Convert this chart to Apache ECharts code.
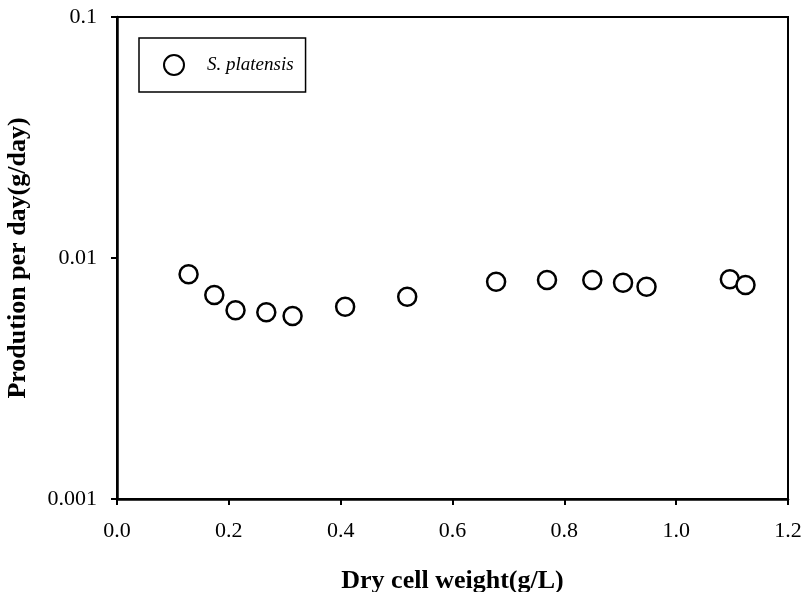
<!DOCTYPE html>
<html>
<head>
<meta charset="utf-8">
<script src="https://cdn.jsdelivr.net/npm/echarts@6/dist/echarts.min.js"></script>
<style>
  html, body { margin: 0; padding: 0; background: #fff; }
  #chart { width: 803px; height: 592px; }
</style>
</head>
<body>
<div id="chart"></div>
<script>
"use strict";

const seriesName = "S. platensis";
const dryCellWeight = [0.128, 0.174, 0.212, 0.267, 0.314, 0.408, 0.519, 0.678, 0.769, 0.850, 0.905, 0.947, 1.096, 1.124];
const productionPerDay = [0.00856, 0.00702, 0.00607, 0.00595, 0.00574, 0.00628, 0.00691, 0.00797, 0.0081, 0.0081, 0.00789, 0.0076, 0.00816, 0.00773];
const yTickLabels = ["0.001", "0.01", "0.1"];

const serif = "'Liberation Serif', 'Times New Roman', serif";
const chart = echarts.init(document.getElementById("chart"), null, { renderer: "canvas" });

chart.setOption({
  animation: false,
  backgroundColor: "#fff",
  grid: {
    left: 117, right: 15, top: 17, bottom: 93, outerBoundsMode: "none", containLabel: false,
    show: true, borderColor: "#000", borderWidth: 2, backgroundColor: "transparent",
  },
  legend: {
    left: 139, top: 38,
    orient: "vertical",
    padding: [16, 12, 16, 24],
    itemWidth: 20, itemHeight: 20,
    borderColor: "#000", borderWidth: 1.5,
    textStyle: { fontFamily: serif, fontStyle: "italic", fontSize: 19, color: "#000", padding: [0, 0, 0, 18] },
    data: [seriesName],
  },
  xAxis: {
    type: "value", min: 0, max: 1.2, interval: 0.2,
    name: "Dry cell weight(g/L)", nameLocation: "middle", nameGap: 69,
    nameTextStyle: { fontFamily: serif, fontWeight: "bold", fontSize: 26, color: "#000" },
    axisLine: { onZero: false, lineStyle: { color: "#000", width: 2.5 } },
    axisTick: { show: true, inside: false, length: 6, lineStyle: { color: "#000", width: 2 } },
    axisLabel: { fontFamily: serif, fontSize: 22, color: "#000", margin: 21, formatter: (v) => v.toFixed(1) },
    splitLine: { show: false },
  },
  yAxis: {
    type: "log", logBase: 10, min: 0.001, max: 0.1,
    name: "Prodution per day(g/day)", nameLocation: "middle", nameGap: 86,
    nameTextStyle: { fontFamily: serif, fontWeight: "bold", fontSize: 26, color: "#000" },
    axisLine: { onZero: false, lineStyle: { color: "#000", width: 2.5 } },
    axisTick: { show: true, inside: false, length: 6, lineStyle: { color: "#000", width: 2 } },
    axisLabel: { fontFamily: serif, fontSize: 22, color: "#000", margin: 20, formatter: (v, i) => yTickLabels[i] },
    splitLine: { show: false },
    minorTick: { show: false },
  },
  series: [{
    name: seriesName,
    type: "scatter",
    symbol: "circle",
    symbolSize: 18,
    itemStyle: { color: "#fff", borderColor: "#000", borderWidth: 2.5, opacity: 1 },
    data: dryCellWeight.map((x, i) => [x, productionPerDay[i]]),
  }],
});
</script>
</body>
</html>
